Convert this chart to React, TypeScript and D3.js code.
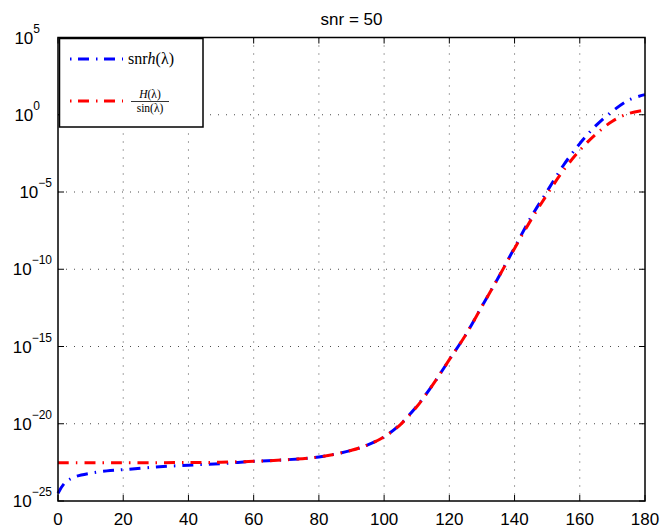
import React from 'react';
import * as d3 from 'd3';

// x values (lambda in degrees) and log10 of each series
const xs = [0, 2, 5, 10, 15, 20, 30, 40, 50, 60, 70, 80, 90, 95, 100, 105, 110, 115, 120, 125, 130, 135, 140, 145, 150, 155, 160, 165, 170, 175, 180];
const blueExp = [-24.5, -23.85, -23.45, -23.2, -23.05, -22.97, -22.8, -22.68, -22.58, -22.43, -22.33, -22.15, -21.72, -21.37, -20.85, -20.02, -18.87, -17.45, -15.85, -14.25, -12.4, -10.55, -8.6, -6.65, -4.95, -3.27, -1.87, -0.69, 0.23, 0.95, 1.3];
const redExp = [-22.52, -22.52, -22.52, -22.52, -22.52, -22.52, -22.52, -22.51, -22.49, -22.43, -22.33, -22.15, -21.72, -21.37, -20.85, -20.05, -18.9, -17.45, -15.85, -14.25, -12.4, -10.55, -8.65, -6.82, -5.15, -3.6, -2.3, -1.25, -0.42, 0.08, 0.3];

const xTicks = [0, 20, 40, 60, 80, 100, 120, 140, 160, 180];
const yTickExps = [5, 0, -5, -10, -15, -20, -25];
const title = 'snr = 50';

const W = 661, H = 531;
const left = 58, right = 645, top = 37.5, bottom = 501;
const sans = 'Liberation Sans, Arial, Helvetica, sans-serif';
const serif = 'Liberation Serif, Times New Roman, serif';
const dash = '11,7,1.5,7';

export default function App() {
  const x = d3.scaleLinear().domain([0, 180]).range([left, right]);
  const y = d3.scaleLog().domain([1e-25, 1e5]).range([bottom, top]);
  const line = d3.line<[number, number]>().x(d => x(d[0])).y(d => y(d[1])).curve(d3.curveCatmullRom.alpha(0.5));
  const bluePts = xs.map((v, i) => [v, Math.pow(10, blueExp[i])] as [number, number]);
  const redPts = xs.map((v, i) => [v, Math.pow(10, redExp[i])] as [number, number]);
  const tl = 6;

  return (
    <svg width={W} height={H} style={{ position: 'absolute', left: 0, top: 0, background: '#fff' }}>
      <rect x={0} y={0} width={W} height={H} fill="#fff" />
      {/* grid */}
      {xTicks.slice(1, -1).map(t => (
        <line key={'gx' + t} x1={x(t)} x2={x(t)} y1={top} y2={bottom} stroke="#000" strokeWidth={1} strokeDasharray="1,7" opacity={0.7} />
      ))}
      {yTickExps.slice(1, -1).map(e => (
        <line key={'gy' + e} x1={left} x2={right} y1={y(Math.pow(10, e))} y2={y(Math.pow(10, e))} stroke="#000" strokeWidth={1} strokeDasharray="1,7" opacity={0.7} />
      ))}
      {/* curves */}
      <path d={line(bluePts) || ''} fill="none" stroke="#0000ff" strokeWidth={3} strokeDasharray={dash} />
      <path d={line(redPts) || ''} fill="none" stroke="#ff0000" strokeWidth={3} strokeDasharray={dash} />
      {/* box */}
      <rect x={left} y={top} width={right - left} height={bottom - top} fill="none" stroke="#000" strokeWidth={1.5} />
      {/* ticks */}
      {xTicks.map(t => (
        <g key={'tx' + t}>
          <line x1={x(t)} x2={x(t)} y1={bottom} y2={bottom - tl} stroke="#000" strokeWidth={1} />
          <line x1={x(t)} x2={x(t)} y1={top} y2={top + tl} stroke="#000" strokeWidth={1} />
          <text x={x(t)} y={525} fontFamily={sans} fontSize={17} textAnchor="middle">{t}</text>
        </g>
      ))}
      {yTickExps.map(e => {
        const yy = y(Math.pow(10, e));
        return (
          <g key={'ty' + e}>
            <line x1={left} x2={left + tl} y1={yy} y2={yy} stroke="#000" strokeWidth={1} />
            <line x1={right} x2={right - tl} y1={yy} y2={yy} stroke="#000" strokeWidth={1} />
            <text x={e < 0 ? 52 : 40} y={yy + 6} fontFamily={sans} fontSize={17} textAnchor="end">
              10<tspan fontSize={12} dy={-11}>{e < 0 ? '\u2212' + Math.abs(e) : String(e)}</tspan>
            </text>
          </g>
        );
      })}
      {/* title */}
      <text x={(left + right) / 2} y={25} fontFamily={sans} fontSize={17} textAnchor="middle">{title}</text>
      {/* legend */}
      <rect x={59.5} y={38.5} width={143.5} height={88.5} fill="#fff" stroke="#000" strokeWidth={1.5} />
      <line x1={70} x2={123} y1={59} y2={59} stroke="#0000ff" strokeWidth={3} strokeDasharray="1.5,6.5,11,7" />
      <text x={128} y={64} fontFamily={serif} fontSize={16}>snr<tspan fontStyle="italic">h</tspan>(λ)</text>
      <line x1={70} x2={123} y1={101} y2={101} stroke="#ff0000" strokeWidth={3} strokeDasharray="1.5,6.5,11,7" />
      <text x={150} y={98} fontFamily={serif} fontSize={11.5} textAnchor="middle"><tspan fontStyle="italic">H</tspan>(λ)</text>
      <line x1={131} x2={169} y1={101.5} y2={101.5} stroke="#000" strokeWidth={0.8} />
      <text x={150} y={112} fontFamily={serif} fontSize={11.5} textAnchor="middle">sin(λ)</text>
    </svg>
  );
}
